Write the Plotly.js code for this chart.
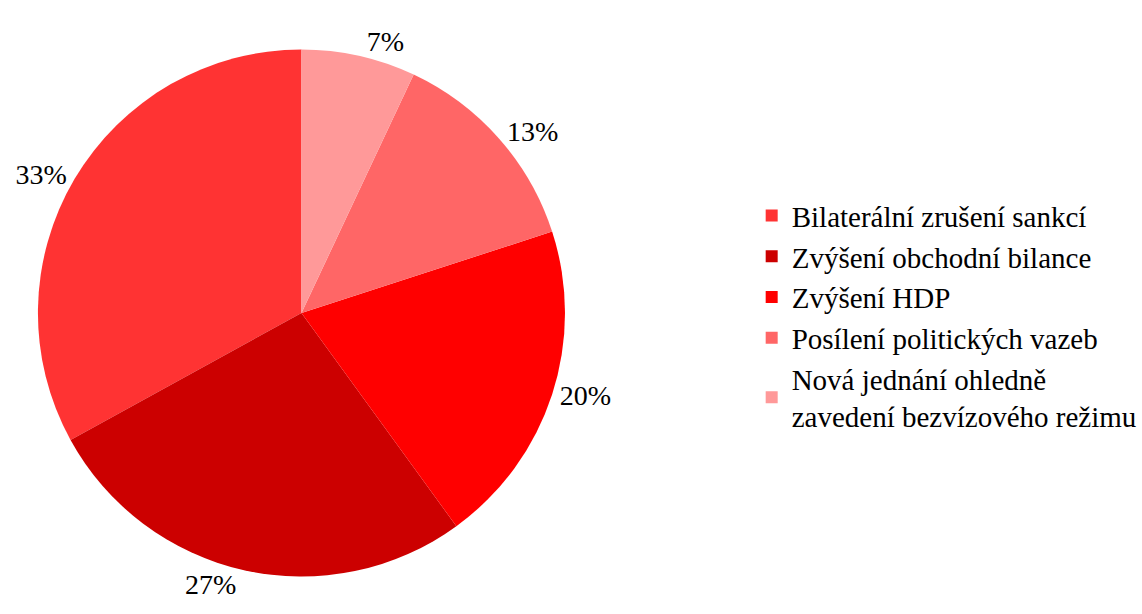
<!DOCTYPE html>
<html>
<head>
<meta charset="utf-8">
<script src="https://cdn.plot.ly/plotly-3.0.1.min.js"></script>
<style>html,body{margin:0;padding:0;background:#fff;}#chart{width:1142px;height:614px;}</style>
</head>
<body>
<div id="chart"></div>
<script>
const categories = [
  "Bilaterální zrušení sankcí",
  "Zvýšení obchodní bilance",
  "Zvýšení HDP",
  "Posílení politických vazeb",
  "Nová jednání ohledně<br>zavedení bezvízového režimu"
];
const shares = [33, 27, 20, 13, 7];
const sliceColors = ["#FF3333", "#CC0000", "#FF0000", "#FF6666", "#FF9999"];

const W = 1142, H = 614;
const cx = 302, cy = 313, r = 264;
const FONT = "Liberation Serif, Times New Roman, serif";
const total = shares.reduce((a, b) => a + b, 0);

Plotly.newPlot("chart", [{
  type: "pie",
  labels: categories,
  values: shares,
  sort: false,
  direction: "counterclockwise",
  rotation: -360 * shares[0] / total,
  marker: {colors: sliceColors, line: {width: 0}},
  textinfo: "percent",
  texttemplate: "%{percent:.0%}",
  textposition: "outside",
  automargin: false,
  outsidetextfont: {family: FONT, size: 28, color: "#000"},
  domain: {x: [(cx - r) / W, (cx + r) / W], y: [(H - cy - r) / H, (H - cy + r) / H]},
  hoverinfo: "label+percent"
}], {
  width: W, height: H,
  margin: {l: 0, r: 0, t: 0, b: 0},
  paper_bgcolor: "#fff",
  font: {family: FONT, size: 28, color: "#000"},
  showlegend: true,
  legend: {x: 753 / W, xanchor: "left", y: 0.485, yanchor: "middle", font: {family: FONT, size: 29, color: "#000"}, bgcolor: "rgba(0,0,0,0)"}
}, {displayModeBar: false, staticPlot: true});
</script>
</body>
</html>
